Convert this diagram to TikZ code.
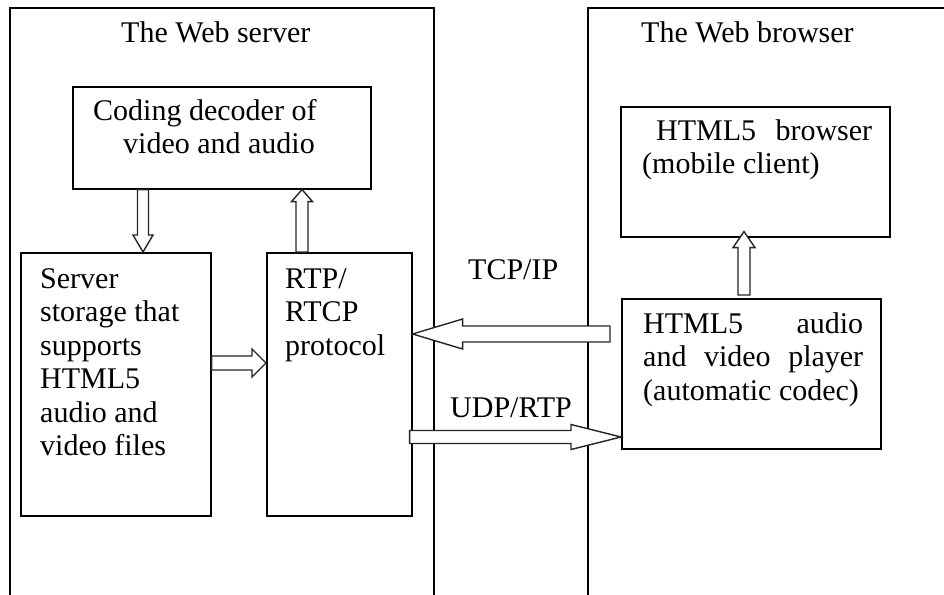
\documentclass[tikz,border=0pt]{standalone}
\usepackage{fontspec}
\setmainfont{Liberation Serif}
\usetikzlibrary{calc}
\tikzset{
  boxnode/.style={draw=black, line width=1.6pt, inner sep=0pt, anchor=north west},
  txt/.style={anchor=base west, inner sep=0pt, font=\fontsize{30}{33.5}\selectfont},
  blockarrow/.style={draw=black!85, line width=1.4pt, fill=white, line join=miter},
  frame/.style={draw=black, line width=1.6pt}
}
\newcommand\stacklines[1]{\vtop{\fontsize{30}{33.5}\selectfont #1}}
% horizontal block arrow: from, to, shaft half, head half, head length (pt)
\newcommand\blockH[5]{%
  \draw[blockarrow] let \p1=(#1), \p2=(#2), \n1={sign(\x2-\x1)}, \n2={\x2-\n1*#5} in
   ({\x1},{\y1+#3pt}) -- ({\n2},{\y1+#3pt}) -- ({\n2},{\y1+#4pt}) -- ({\x2},{\y1})
   -- ({\n2},{\y1-#4pt}) -- ({\n2},{\y1-#3pt}) -- ({\x1},{\y1-#3pt}) -- cycle;}
% vertical block arrow
\newcommand\blockV[5]{%
  \draw[blockarrow] let \p1=(#1), \p2=(#2), \n1={sign(\y2-\y1)}, \n2={\y2-\n1*#5} in
   ({\x1+#3pt},{\y1}) -- ({\x1+#3pt},{\n2}) -- ({\x1+#4pt},{\n2}) -- ({\x1},{\y2})
   -- ({\x1-#4pt},{\n2}) -- ({\x1-#3pt},{\n2}) -- ({\x1-#3pt},{\y1}) -- cycle;}
\begin{document}
\begin{tikzpicture}[x=1pt,y=-1pt]
\useasboundingbox[fill=white] (0,0) rectangle (944,594);
% containers
\draw[frame] (10,596) -- (10,8) -- (434,8) -- (434,596);
\draw[frame] (588,596) -- (588,8) -- (946,8);
\node[txt] (tserver) at (121,43) {The Web server};
\node[txt] (tbrowser) at (641,43) {The Web browser};
% boxes
\node[boxnode, minimum width=298pt, minimum height=102pt] (codec) at (72,86) {};
\node[boxnode, minimum width=190pt, minimum height=263pt] (storage) at (20,252) {};
\node[boxnode, minimum width=145pt, minimum height=263pt] (rtp) at (266,252) {};
\node[boxnode, minimum width=269pt, minimum height=130pt] (browserbox) at (620,106) {};
\node[boxnode, minimum width=259pt, minimum height=150pt] (player) at (621,298) {};
% texts
\node[txt] (codectxt) at (93,120) {\stacklines{\hbox{Coding decoder of}\hbox{\hskip30pt video and audio}}};
\node[txt] (storagetxt) at (40,288) {\stacklines{\hbox{Server}\hbox{storage that}\hbox{supports}\hbox{HTML5}\hbox{audio and}\hbox{video files}}};
\node[txt] (rtptxt) at (285,288) {\stacklines{\hbox{RTP/}\hbox{RTCP}\hbox{protocol}}};
\node[txt] (browsertxt) at (642,140) {\stacklines{\hbox to 230pt{\hskip14pt HTML5\hfill browser}\hbox{(mobile client)}}};
\node[txt] (playertxt) at (643,333) {\stacklines{\hbox to 220pt{HTML5\hfill audio}\hbox to 220pt{and\hfill video\hfill player}\hbox{(automatic codec)}}};
\node[txt] (tcp) at (468,279) {TCP/IP};
\node[txt] (udp) at (450,417) {UDP/RTP};
% arrow end points
\coordinate (a1s) at ($(codec.south west)+(71,0)$);
\coordinate (a1e) at (a1s |- storage.north);
\coordinate (a2s) at ($(rtp.north west)+(36,0)$);
\coordinate (a2e) at (a2s |- codec.south);
\coordinate (a3s) at ($(storage.north east)+(0,111)$);
\coordinate (a3e) at (a3s -| rtp.west);
\coordinate (a4s) at ($(player.north west)+(-11,36)$);
\coordinate (a4e) at (a4s -| rtp.east);
\coordinate (a5s) at ($(rtp.north east)+(-3,185)$);
\coordinate (a5e) at (a5s -| player.west);
\coordinate (a6s) at ($(player.north west)+(123,-3)$);
\coordinate (a6e) at ($(browserbox.south west)+(124,-6)$);
% arrows
\blockV{a1s}{a1e}{5.5}{10}{17}
\blockV{a2s}{a2e}{6}{10.5}{12}
\blockH{a3s}{a3e}{7}{14}{14}
\blockH{a4s}{a4e}{8}{15}{50}
\blockH{a5s}{a5e}{6.5}{12.5}{50}
\blockV{a6s}{a6e}{6}{11}{16}
\end{tikzpicture}
\end{document}
